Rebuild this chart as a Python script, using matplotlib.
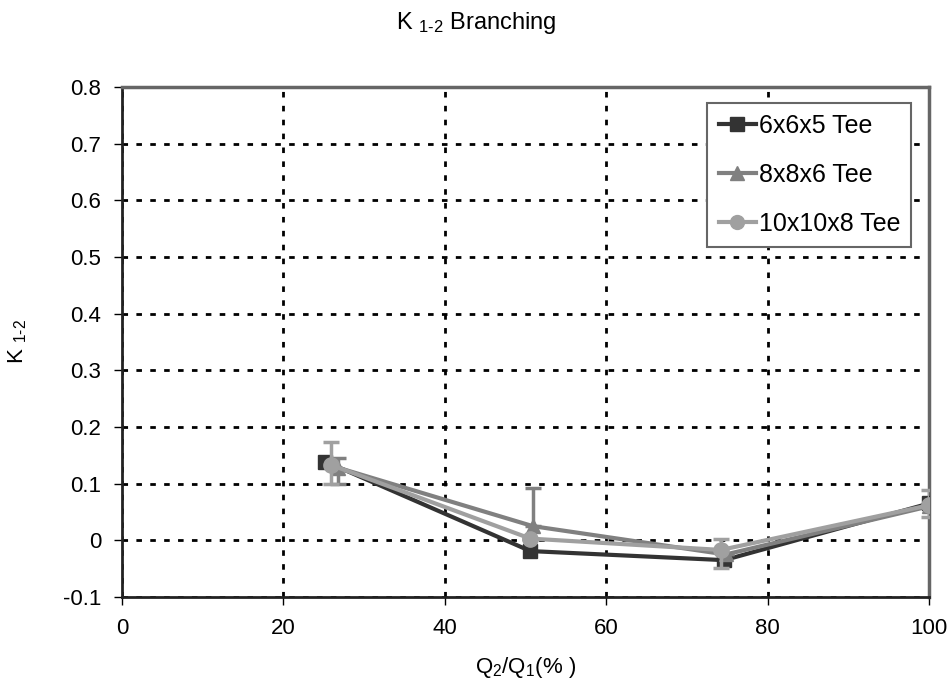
import matplotlib
matplotlib.use("Agg")
import matplotlib.pyplot as plt
from matplotlib.lines import Line2D

plt.rcParams["font.family"] = ["Liberation Sans", "DejaVu Sans"]
plt.rcParams["mathtext.fontset"] = "custom"
plt.rcParams["mathtext.rm"] = "Liberation Sans"
plt.rcParams["mathtext.it"] = "Liberation Sans"

# data
x_655 = [25.2, 50.6, 74.6, 100]
y_655 = [0.139, -0.019, -0.035, 0.065]

x_886 = [26.8, 50.9, 74.8, 100]
y_886 = [0.128, 0.025, -0.025, 0.060]
err_886_lo = [0.028, 0.0, 0.0, 0.0]
err_886_hi = [0.018, 0.068, 0.0, 0.0]

x_10108 = [25.9, 50.6, 74.2, 100]
y_10108 = [0.133, 0.003, -0.017, 0.062]
err_10108_lo = [0.034, 0.0, 0.031, 0.020]
err_10108_hi = [0.040, 0.0, 0.020, 0.026]

labels = ["6x6x5 Tee", "8x8x6 Tee", "10x10x8 Tee"]
colors = ["#333333", "#808080", "#a0a0a0"]
markers = ["s", "^", "o"]

fig = plt.figure(figsize=(9.53, 6.85), dpi=100)
ax = fig.add_axes([0.128, 0.1285, 0.847, 0.7445])

ax.errorbar(x_655, y_655, color=colors[0], marker="s", ms=10, lw=3, zorder=3)
ax.errorbar(x_886, y_886, yerr=[err_886_lo, err_886_hi], color=colors[1],
            marker="^", ms=10, lw=3, elinewidth=2.5, capsize=6, capthick=2.5,
            zorder=4)
ax.errorbar(x_10108, y_10108, yerr=[err_10108_lo, err_10108_hi], color=colors[2],
            marker="o", ms=11, lw=3, elinewidth=2.5, capsize=6, capthick=2.5,
            zorder=5)

ax.set_xlim(0, 100)
ax.set_ylim(-0.1, 0.8)
ax.set_xticks(range(0, 101, 20))
ax.set_yticks([i / 10 for i in range(-1, 9)])
ax.set_yticklabels(["-0.1", "0", "0.1", "0.2", "0.3", "0.4", "0.5", "0.6", "0.7", "0.8"])
ax.tick_params(labelsize=16, direction="out", length=6, width=1, pad=9)

ax.grid(True, color="black", linestyle=(0, (2, 3)), linewidth=2)
ax.set_axisbelow(True)

for s in ["left", "bottom"]:
    ax.spines[s].set_color("#222222")
    ax.spines[s].set_linewidth(2)
for s in ["top", "right"]:
    ax.spines[s].set_color("#666666")
    ax.spines[s].set_linewidth(2.5)

ax.set_xlabel("Q$_2$/Q$_1$(% )", fontsize=16, labelpad=12)
ax.set_ylabel("K $_{1\u20102}$", fontsize=16, labelpad=24)
fig.suptitle("K $_{1\u20102}$ Branching", fontsize=17, y=0.985)

handles = [Line2D([], [], color=c, marker=m, ms=10, lw=3)
           for c, m in zip(colors, markers)]
leg = ax.legend(handles, labels, loc="upper right", bbox_to_anchor=(0.978, 0.969),
                fontsize=18, frameon=True, fancybox=False, framealpha=1,
                edgecolor="#666666", handlelength=1.5, handletextpad=0.1,
                borderpad=0.45, labelspacing=1.0, borderaxespad=0)
leg.get_frame().set_linewidth(1.5)

fig.savefig("out.png", dpi=100)
